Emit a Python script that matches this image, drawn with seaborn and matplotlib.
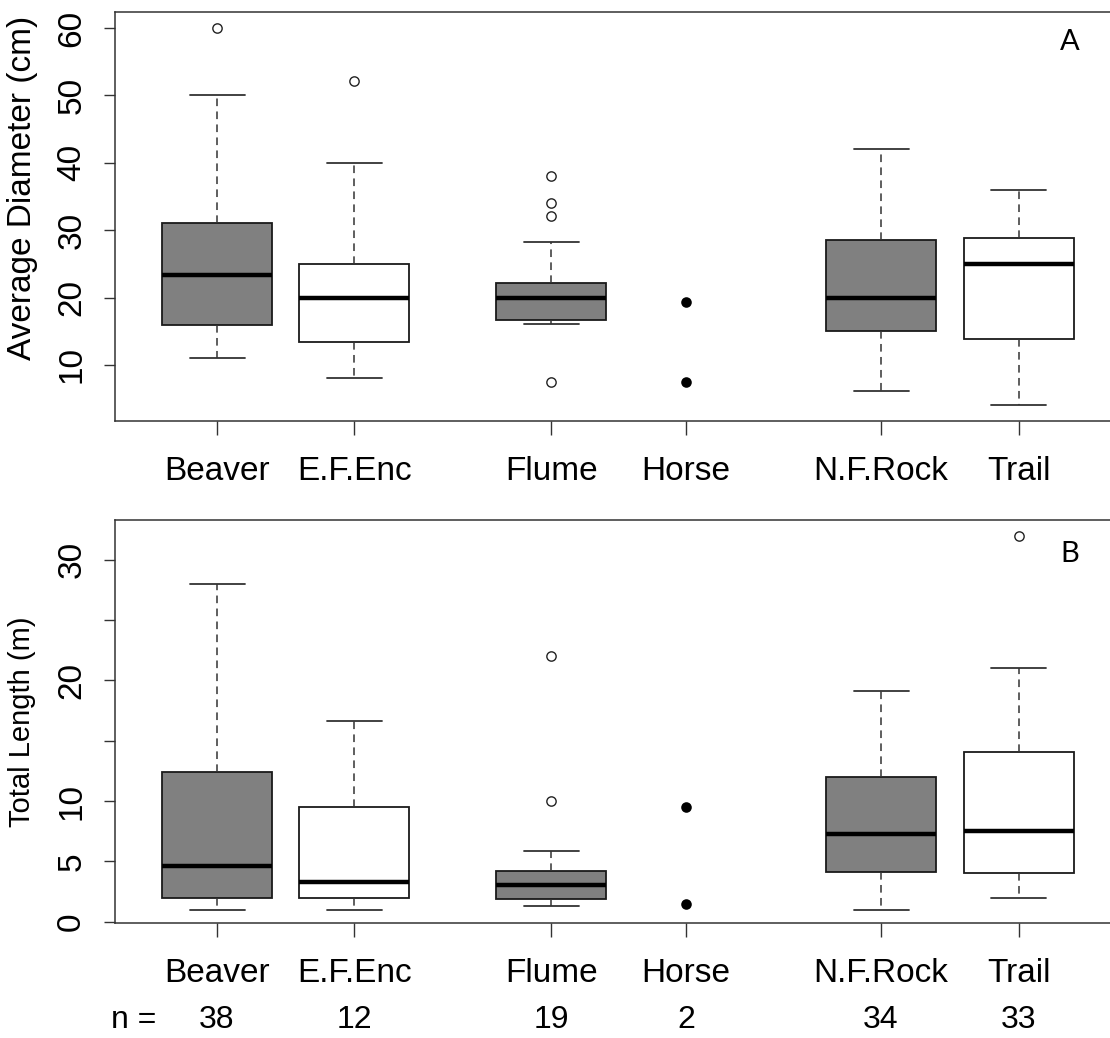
import numpy as np
import pandas as pd
import matplotlib
matplotlib.use("Agg")
import matplotlib.pyplot as plt
import matplotlib.transforms as mtransforms
import seaborn as sns

sns.set_style("ticks")
plt.rcParams["font.family"] = ["Liberation Sans", "DejaVu Sans"]
plt.rcParams["text.color"] = "black"
plt.rcParams["axes.labelcolor"] = "black"
plt.rcParams["xtick.labelcolor"] = "black"
plt.rcParams["ytick.labelcolor"] = "black"

# sites and sample sizes
sites = ["Beaver", "E.F.Enc", "Flume", "Horse", "N.F.Rock", "Trail"]
n_obs = [38, 12, 19, 2, 34, 33]

# Panel A - average diameter (cm); Horse has only 2 logs, shown as points
diam_whislo = [11.0, 8.0, 16.1, np.nan, 6.1, 4.0]
diam_q1 = [16.0, 13.4, 16.7, np.nan, 15.0, 13.9]
diam_med = [23.4, 20.0, 20.0, np.nan, 20.0, 25.0]
diam_q3 = [31.1, 25.0, 22.1, np.nan, 28.6, 28.9]
diam_whishi = [50.0, 40.0, 28.2, np.nan, 42.0, 36.0]
diam_points = [[60.0], [52.2], [38.0, 34.1, 32.1, 7.5], [19.4, 7.5], [], []]

# Panel B - total length (m)
len_whislo = [1.0, 1.0, 1.3, np.nan, 1.0, 2.0]
len_q1 = [2.0, 2.0, 1.9, np.nan, 4.1, 4.0]
len_med = [4.6, 3.3, 3.0, np.nan, 7.3, 7.5]
len_q3 = [12.4, 9.5, 4.2, np.nan, 12.0, 14.1]
len_whishi = [28.0, 16.6, 5.9, np.nan, 19.1, 21.0]
len_points = [[], [], [22.0, 10.0], [9.5, 1.5], [], [32.0]]

# layout / style
positions = [1, 2, 3.43, 4.41, 5.83, 6.83]
fills = ["#808080", "white", "#808080", "white", "#808080", "white"]
W, H = 1110, 1038

fig = plt.figure(figsize=(W / 100, H / 100), dpi=100)
axA = fig.add_axes([115 / W, 1 - 421 / H, 997 / W, 409 / H])
axB = fig.add_axes([115 / W, 1 - 923 / H, 997 / W, 403 / H])


def draw_panel(ax, lo, q1, med, q3, hi, points):
    keep = [i for i in range(len(sites)) if not np.isnan(med[i])]
    stats = [dict(whislo=lo[i], q1=q1[i], med=med[i], q3=q3[i], whishi=hi[i], fliers=[])
             for i in keep]
    art = ax.bxp(stats, positions=[positions[i] for i in keep], widths=0.8, capwidths=0.4,
                 patch_artist=True, showfliers=False, manage_ticks=False,
                 boxprops=dict(edgecolor="#1a1a1a", linewidth=1.3),
                 whiskerprops=dict(color="#333333", linewidth=1.1, linestyle=(0, (5, 3.5))),
                 capprops=dict(color="#333333", linewidth=1.3),
                 medianprops=dict(color="black", linewidth=3.2, solid_capstyle="butt"))
    for patch, i in zip(art["boxes"], keep):
        patch.set_facecolor(fills[i])

    rows = []
    for i, vals in enumerate(points):
        for v in vals:
            rows.append({"x": positions[i], "y": v, "raw": bool(np.isnan(med[i]))})
    df = pd.DataFrame(rows)
    outl = df[~df["raw"]]
    raw = df[df["raw"]]
    sns.scatterplot(data=outl, x="x", y="y", ax=ax, marker="o", s=45, facecolor="white",
                    edgecolor="#222222", linewidth=1.0, zorder=4, legend=False)
    sns.scatterplot(data=raw, x="x", y="y", ax=ax, marker="o", s=58, color="black",
                    linewidth=0, zorder=4, legend=False)

    ax.set_xlim(0.258, 7.51)
    ax.set_xticks(positions)
    ax.set_xticklabels(sites)
    ax.set_xlabel("")
    ax.tick_params(axis="x", length=10, width=1.0, pad=15, labelsize=24, color="#333333")
    ax.tick_params(axis="y", length=8, width=1.0, pad=12, labelsize=24, labelrotation=90,
                   color="#333333")
    for sp in ax.spines.values():
        sp.set_visible(True)
        sp.set_linewidth(1.1)
        sp.set_color("#333333")


draw_panel(axA, diam_whislo, diam_q1, diam_med, diam_q3, diam_whishi, diam_points)
axA.set_ylim(1.69, 62.37)
axA.set_yticks([10, 20, 30, 40, 50, 60])
for lbl in axA.get_yticklabels():
    lbl.set_va("center")
axA.set_ylabel("Average Diameter (cm)", fontsize=24, va="center")
axA.yaxis.set_label_coords(-0.0923, 0.57)
axA.text(0.958, 0.927, "A", transform=axA.transAxes, ha="center", va="center",
         fontsize=21, family=["Lato", "DejaVu Sans"])

draw_panel(axB, len_whislo, len_q1, len_med, len_q3, len_whishi, len_points)
axB.set_ylim(-0.11, 33.3)
axB.set_yticks([0, 5, 10, 15, 20, 25, 30])
axB.set_yticklabels(["0", "5", "10", "", "20", "", "30"])
for lbl in axB.get_yticklabels():
    lbl.set_va("center")
axB.set_ylabel("Total Length (m)", fontsize=21, va="center")
axB.yaxis.set_label_coords(-0.0933, 0.5)
axB.text(0.958, 0.916, "B", transform=axB.transAxes, ha="center", va="center",
         fontsize=21, family=["Lato", "DejaVu Sans"])

# sample sizes under panel B
trans = mtransforms.blended_transform_factory(axB.transData, axB.transAxes)
axB.text(-0.004, -0.26, "n =", transform=axB.transAxes, ha="left", va="baseline", fontsize=23)
for p, n in zip(positions, n_obs):
    axB.text(p, -0.26, str(n), transform=trans, ha="center", va="baseline", fontsize=23)

fig.savefig("out.png", dpi=100)
